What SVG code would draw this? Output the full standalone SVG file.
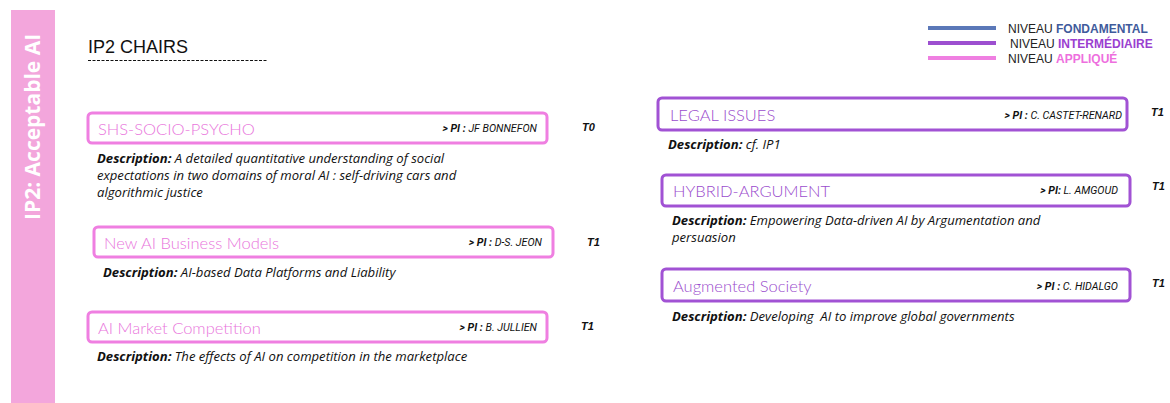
<svg xmlns="http://www.w3.org/2000/svg" width="1170" height="403" viewBox="0 0 1170 403">
  <style>
    .band { fill: #f3a6dc; }
    .bandtxt { font-family: "Open Sans", "Liberation Sans", sans-serif; font-weight: bold; font-size: 21px; fill: #ffffff; }
    .head { font-family: "Liberation Sans", Arial, sans-serif; font-size: 18px; fill: #111111; }
    .boxA { fill: #ffffff; stroke: #ef7fe1; stroke-width: 3; }
    .boxI { fill: #ffffff; stroke: #a152d4; stroke-width: 3; }
    .title { font-family: "Lato", "Open Sans", sans-serif; font-weight: 300; font-size: 16.5px; }
    .tA { fill: #e976dc; }
    .tI { fill: #9a4ccd; }
    .pi { font-family: "Roboto", "Liberation Sans", sans-serif; font-style: italic; font-size: 10.7px; fill: #111111; text-anchor: end; }
    .lvl { font-family: "Liberation Sans", Arial, sans-serif; font-style: italic; font-weight: bold; font-size: 11px; fill: #111111; }
    .desc { font-family: "Open Sans", "Liberation Sans", sans-serif; font-style: italic; font-size: 13.1px; fill: #111111; }
    .b { font-weight: bold; }
    .leg { font-family: "Liberation Sans", Arial, sans-serif; font-size: 12px; fill: #222222; }
  </style>

  <!-- side band -->
  <rect class="band" x="11" y="10" width="44" height="393"/>
  <text class="bandtxt" transform="translate(40,220) rotate(-90)">IP2: Acceptable AI</text>

  <!-- heading -->
  <text class="head" x="88" y="53">IP2 CHAIRS</text>
  <line x1="88" y1="60.5" x2="268" y2="60.5" stroke="#111111" stroke-width="1" stroke-dasharray="3,1.5"/>

  <!-- legend -->
  <g id="legend">
    <line x1="928" y1="28" x2="996" y2="28" stroke="#5b78b8" stroke-width="4"/>
    <line x1="928" y1="43" x2="996" y2="43" stroke="#9d4fd0" stroke-width="4"/>
    <line x1="928" y1="58" x2="996" y2="58" stroke="#ef7fe1" stroke-width="4"/>
    <text class="leg" x="1008" y="33">NIVEAU <tspan font-weight="bold" fill="#3f5b9c">FONDAMENTAL</tspan></text>
    <text class="leg" x="1010" y="48">NIVEAU <tspan font-weight="bold" fill="#9a40d0">INTERMÉDIAIRE</tspan></text>
    <text class="leg" x="1008" y="63">NIVEAU <tspan font-weight="bold" fill="#ee6fde">APPLIQUÉ</tspan></text>
  </g>

  <!-- applied-level chairs -->
  <g id="shs-socio-psycho">
    <rect class="boxA" x="88" y="113" width="459" height="30" rx="4"/>
    <text class="title tA" x="98" y="135">SHS-SOCIO-PSYCHO</text>
    <text class="pi" x="537" y="132"><tspan class="b">&gt; PI :</tspan> JF BONNEFON</text>
    <text class="lvl" x="582" y="131">T0</text>
    <text class="desc" x="97" y="163"><tspan class="b">Description:</tspan> A detailed quantitative understanding of social</text>
    <text class="desc" x="97" y="180">expectations in two domains of moral AI : self-driving cars and</text>
    <text class="desc" x="97" y="197">algorithmic justice</text>
  </g>

  <g id="new-ai-business-models">
    <rect class="boxA" x="94" y="227" width="459" height="30" rx="4"/>
    <text class="title tA" x="104" y="249">New AI Business Models</text>
    <text class="pi" x="542" y="246"><tspan class="b">&gt; PI :</tspan> D-S. JEON</text>
    <text class="lvl" x="587" y="246">T1</text>
    <text class="desc" x="103" y="277"><tspan class="b">Description:</tspan> AI-based Data Platforms and Liability</text>
  </g>

  <g id="ai-market-competition">
    <rect class="boxA" x="88" y="312" width="459" height="30" rx="4"/>
    <text class="title tA" x="98" y="334">AI Market Competition</text>
    <text class="pi" x="537" y="331"><tspan class="b">&gt; PI :</tspan> B. JULLIEN</text>
    <text class="lvl" x="581" y="330">T1</text>
    <text class="desc" x="97" y="361"><tspan class="b">Description:</tspan> The effects of AI on competition in the marketplace</text>
  </g>

  <!-- intermediate-level chairs -->
  <g id="legal-issues">
    <rect class="boxI" x="658" y="98" width="469" height="32" rx="4"/>
    <text class="title tI" x="670" y="121">LEGAL ISSUES</text>
    <text class="pi" x="1122" y="119"><tspan class="b">&gt; PI :</tspan> C. CASTET-RENARD</text>
    <text class="lvl" x="1151" y="116">T1</text>
    <text class="desc" x="668" y="149"><tspan class="b">Description:</tspan> cf. IP1</text>
  </g>

  <g id="hybrid-argument">
    <rect class="boxI" x="662" y="175" width="468" height="31" rx="4"/>
    <text class="title tI" x="673" y="197">HYBRID-ARGUMENT</text>
    <text class="pi" x="1118" y="194"><tspan class="b">&gt; PI:</tspan> L. AMGOUD</text>
    <text class="lvl" x="1152" y="190">T1</text>
    <text class="desc" x="672" y="225"><tspan class="b">Description:</tspan> Empowering Data-driven AI by Argumentation and</text>
    <text class="desc" x="672" y="242">persuasion</text>
  </g>

  <g id="augmented-society">
    <rect class="boxI" x="662" y="269" width="468" height="32" rx="4"/>
    <text class="title tI" x="673" y="292">Augmented Society</text>
    <text class="pi" x="1118" y="290"><tspan class="b">&gt; PI :</tspan> C. HIDALGO</text>
    <text class="lvl" x="1152" y="287">T1</text>
    <text class="desc" x="672" y="321" xml:space="preserve"><tspan class="b">Description:</tspan> Developing  AI to improve global governments</text>
  </g>
</svg>
